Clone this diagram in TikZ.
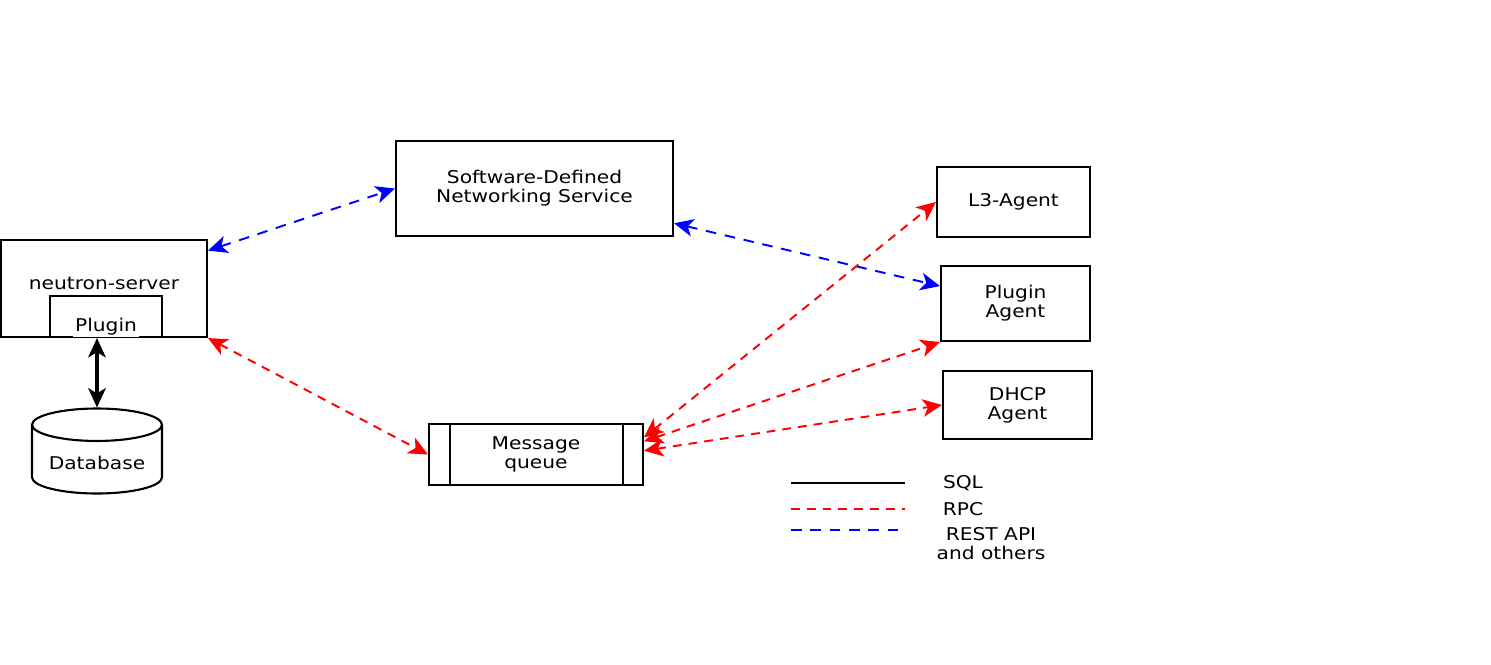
\documentclass[tikz,border=0pt]{standalone}
\usepackage{fontspec}
\setmainfont{DejaVu Sans}[FakeStretch=1.15]
\usepackage{tikz}
\usetikzlibrary{arrows.meta}
\usetikzlibrary{shapes.geometric}
\usetikzlibrary{positioning}

\begin{document}
\begin{tikzpicture}[x=0.02cm, y=-0.02cm, >={Stealth[length=11pt,width=10pt,inset=3pt]}, font=\fontsize{10}{10.8}\selectfont]
            \tikzstyle{box}=[draw, line width=1.2pt, align=center, text=black]
            \tikzstyle{sql}=[<->, black, line width=1.8pt]
            \tikzstyle{rpc}=[<->, red, line width=1.1pt, dash pattern=on 5pt off 4pt]
            \tikzstyle{rest}=[<->, blue, line width=1.1pt, dash pattern=on 6pt off 5pt]

            \useasboundingbox (0,0) rectangle (1491,664);

            \node[box, minimum width=4.12cm, minimum height=1.94cm, label={[yshift=0.11cm]center:neutron-server}] (server) at (104,288.5) {};
            \node[box, minimum width=2.24cm, minimum height=0.82cm] (plugin) at (106,316.5) {};
            \node[fill=white, inner sep=1pt] (plugintxt) at (106,327) {Plugin};
            \node[box, cylinder, shape border rotate=90, aspect=0.3, minimum width=2.6cm, minimum height=1.7cm] (db) at (97,463) {Database};

            \node[box, minimum width=5.54cm, minimum height=1.9cm] (sdn) at (534.5,188.5) {Software-Defined\\Networking Service};
            \node[box, minimum width=4.28cm, minimum height=1.22cm] (mq) at (536,454.5) {Message\\queue};
            \draw[line width=1.2pt] ([xshift=0.44cm]mq.north west) -- ([xshift=0.44cm]mq.south west);
            \draw[line width=1.2pt] ([xshift=-0.42cm]mq.north east) -- ([xshift=-0.42cm]mq.south east);

            \node[box, minimum width=3.06cm, minimum height=1.4cm] (l3) at (1013.5,202) {L3-Agent};
            \node[box, minimum width=2.98cm, minimum height=1.5cm] (pagent) at (1015.5,303.5) {Plugin\\Agent};
            \node[box, minimum width=2.98cm, minimum height=1.36cm] (dhcp) at (1017.5,405) {DHCP\\Agent};

            \draw[sql] (db.north |- plugin.south) -- (db.north);
            \draw[rest] (server.20) -- (sdn.west);
            \draw[rest] (sdn.-14) -- (pagent.167);
            \draw[rpc] (server.south east) -- (mq.west);
            \draw[rpc] (mq.9) -- (l3.west);
            \draw[rpc] (mq.7) -- (pagent.south west);
            \draw[rpc] (mq.2) -- (dhcp.west);

            % legend
            \coordinate (sqla) at (791,483);
            \coordinate (sqlb) at (905,483);
            \coordinate (rpca) at (791,509);
            \coordinate (rpcb) at (905,509);
            \coordinate (resta) at (791,530);
            \coordinate (restb) at (905,530);
            \draw[sql, -, line width=1.2pt] (sqla) -- (sqlb);
            \draw[rpc, -] (rpca) -- (rpcb);
            \draw[rest, -] (resta) -- (restb);
            \node (sqltxt) at (963,483) {SQL};
            \node (rpctxt) at (963,509) {RPC};
            \node[align=center] (resttxt) at (991,544) {REST API\\and others};
        \end{tikzpicture}
\end{document}
